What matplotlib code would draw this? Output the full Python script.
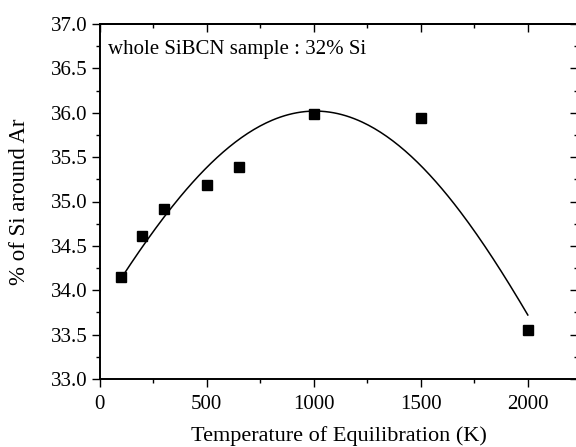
from matplotlib import pyplot as plt
from matplotlib.ticker import MultipleLocator
import numpy as np

# measured points
temperature = [100, 200, 300, 500, 650, 1000, 1500, 2000]
si_percent = [34.15, 34.61, 34.92, 35.19, 35.39, 35.99, 35.94, 33.55]

# fitted curve
fit_temperature = [100, 200, 300, 400, 500, 600, 700, 800, 900, 1000,
                   1100, 1200, 1300, 1400, 1500, 1600, 1700, 1800, 1900, 2000]
fit_si_percent = [34.12, 34.49, 34.83, 35.13, 35.39, 35.60, 35.77, 35.90, 35.98, 36.01,
                  35.99, 35.93, 35.82, 35.64, 35.41, 35.14, 34.83, 34.47, 34.11, 33.74]

x_ticks = [0, 500, 1000, 1500, 2000]
y_ticks = [33.0, 33.5, 34.0, 34.5, 35.0, 35.5, 36.0, 36.5, 37.0]

plt.rcParams['font.family'] = ['Liberation Serif', 'DejaVu Serif']

fig = plt.figure(figsize=(5.76, 4.47), dpi=100)
ax = fig.add_axes([99.5 / 576, 68 / 447, (577.5 - 99.5) / 576, (379 - 24) / 447])

# smooth the read-off curve points with a polynomial through them
coef = np.polyfit(fit_temperature, fit_si_percent, 4)
xs = np.linspace(fit_temperature[0], fit_temperature[-1], 200)
ax.plot(xs, np.polyval(coef, xs), color='black', linewidth=1.1, zorder=2)
ax.plot(temperature, si_percent, linestyle='none', marker='s', markersize=7.4,
        color='black', zorder=3)

ax.set_xlim(0, 2232)
ax.set_ylim(33.0, 37.0)
ax.set_xticks(x_ticks)
ax.set_yticks(y_ticks)
ax.set_yticklabels(['{:.1f}'.format(v) for v in y_ticks])
ax.xaxis.set_minor_locator(MultipleLocator(250))
ax.yaxis.set_minor_locator(MultipleLocator(0.25))

ax.tick_params(which='both', direction='out', labelsize=15, width=1.0,
               top=False, right=False)
ax.tick_params(which='major', length=5.5)
ax.tick_params(which='minor', length=3)
ax.tick_params(axis='x', pad=6)
ax.tick_params(axis='y', pad=3)
for side in ax.spines.values():
    side.set_linewidth(1.4)

# mirrored ticks pointing inward on top and right
top = ax.secondary_xaxis('top')
top.set_xticks(x_ticks)
top.xaxis.set_minor_locator(MultipleLocator(250))
top.tick_params(which='both', direction='in', labeltop=False, width=1.0)
top.tick_params(which='major', length=5.5)
top.tick_params(which='minor', length=3)
top.spines['top'].set_linewidth(1.4)

right = ax.secondary_yaxis('right')
right.set_yticks(y_ticks)
right.yaxis.set_minor_locator(MultipleLocator(0.25))
right.tick_params(which='both', direction='in', labelright=False, width=1.0)
right.tick_params(which='major', length=5.5)
right.tick_params(which='minor', length=3)

ax.set_xlabel('Temperature of Equilibration (K)', fontsize=16, labelpad=8.5)
ax.set_ylabel('% of Si around Ar', fontsize=16.5, labelpad=15)
ax.text(0.018, 0.955, 'whole SiBCN sample : 32% Si', transform=ax.transAxes,
        fontsize=15, va='top', ha='left')

fig.savefig('out.png', dpi=100)
